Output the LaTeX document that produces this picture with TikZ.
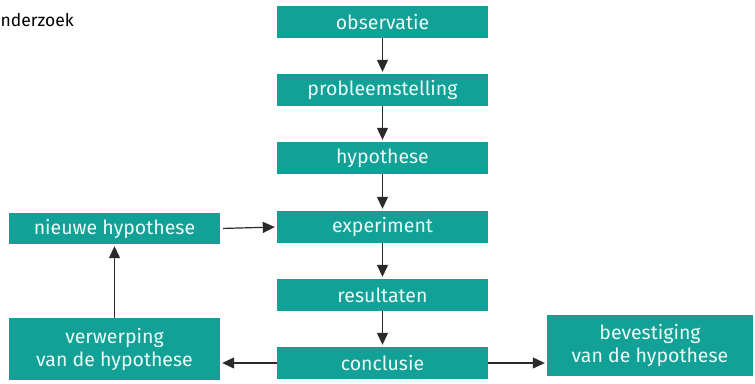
\documentclass[tikz,border=0pt]{standalone}
\usepackage{fontspec}
\setmainfont{Fira Sans}
\usetikzlibrary{arrows.meta}
\definecolor{teal1}{HTML}{12A196}
\definecolor{txt}{HTML}{EAFBF8}
\definecolor{arr}{HTML}{2A2A2A}
\begin{document}
\begin{tikzpicture}[x=1pt,y=-1pt,
  box/.style={fill=teal1,text=txt,inner sep=0pt,font=\fontsize{19.5}{23}\selectfont,align=center},
  flow/.style={draw=arr,line width=1.2pt,-{Triangle[length=12pt,width=11pt]},shorten >=2pt}]
\useasboundingbox (0,0) rectangle (755,383);
\fill[white] (0,0) rectangle (755,383);
\node[anchor=west,font=\fontsize{17.5}{19}\selectfont,text=black,inner sep=0pt] (title) at (0.5,20) {nderzoek};
\node[box,minimum width=211pt,minimum height=32pt] (obs) at (382.5,22) {observatie};
\node[box,minimum width=211pt,minimum height=32pt] (prob) at (382.5,90) {probleemstelling};
\node[box,minimum width=211pt,minimum height=32pt] (hyp) at (382.5,158) {hypothese};
\node[box,minimum width=211pt,minimum height=32pt] (exp) at (382.5,227) {experiment};
\node[box,minimum width=211pt,minimum height=32pt] (res) at (382.5,295) {resultaten};
\node[box,minimum width=211pt,minimum height=32pt] (con) at (382.5,363) {conclusie};
\node[box,minimum width=211pt,minimum height=31pt] (nieuw) at (114.5,228.5) {nieuwe hypothese};
\node[box,minimum width=211pt,minimum height=62pt] (verw) at (114.5,349) {verwerping\\van de hypothese};
\node[box,minimum width=206pt,minimum height=61pt] (bev) at (650,345.5) {bevestiging\\van de hypothese};
\draw[flow] (obs) -- (prob);
\draw[flow] (prob) -- (hyp);
\draw[flow] (hyp) -- (exp);
\draw[flow] (exp) -- (res);
\draw[flow] (res) -- (con);
\draw[flow,shorten <=3pt] (nieuw.east) -- (exp.west);
\draw[flow] (verw.north) -- (nieuw.south);
\draw[flow] (con.west) -- (verw.east |- con.west);
\draw[flow] (con.east) -- (bev.west |- con.east);
\end{tikzpicture}
\end{document}
